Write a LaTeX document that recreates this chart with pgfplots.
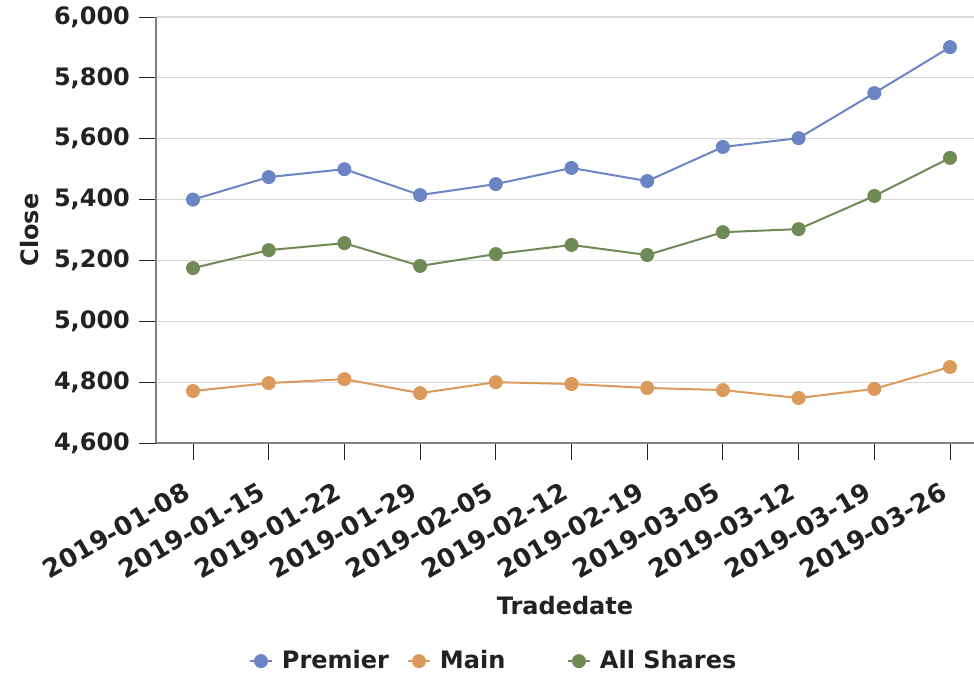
\documentclass[border=0pt]{standalone}
\usepackage{fontspec}
\setmainfont{DejaVu Sans}
\usepackage{pgfplots}
\pgfplotsset{compat=1.18}

\definecolor{premier}{HTML}{6B84C4}
\definecolor{mainc}{HTML}{DB9A5A}
\definecolor{allsh}{HTML}{6F8A55}
\definecolor{txt}{HTML}{222222}
\definecolor{axisgray}{HTML}{808080}
\definecolor{gridgray}{HTML}{D9D9D9}

\begin{document}
\begin{tikzpicture}
\begin{axis}[
    scale only axis,
    width=409pt, height=213pt,
    xmin=-0.489, xmax=10.317,
    ymin=4600, ymax=6000,
    ytick={4600,4800,...,6000},
    xtick={0,...,10},
    xticklabels={2019-01-08,2019-01-15,2019-01-22,2019-01-29,2019-02-05,2019-02-12,2019-02-19,2019-03-05,2019-03-12,2019-03-19,2019-03-26},
    axis x line*=bottom, axis y line*=left,
    axis line style={axisgray, line width=0.8pt},
    tick style={txt, line width=0.5pt},
    tick align=outside,
    major tick length=8.5pt,
    ymajorgrids,
    grid style={gridgray, line width=0.6pt},
    /pgf/number format/assume math mode=true,
    /pgf/number format/1000 sep={,},
    ticklabel style={font=\fontsize{12}{14}\selectfont\bfseries, text=txt},
    x tick label style={font=\fontsize{12.8}{15}\selectfont\bfseries, xshift=-5pt, yshift=-9pt, rotate=30, anchor=north east, inner sep=1pt},
    y tick label style={xshift=-1pt},
    xlabel={Tradedate},
    ylabel={Close},
    label style={font=\fontsize{12}{14}\selectfont\bfseries, text=txt},
    xlabel style={yshift=-3pt},
    ylabel style={yshift=0.5pt},
    legend columns=3,
    legend style={at={(axis description cs:0.414,-0.512)}, anchor=center,
        draw=none, font=\fontsize{12}{14}\selectfont\bfseries, text=txt,
        column sep=0pt},
    legend image code/.code={\draw[mark repeat=2, mark phase=2, #1] plot coordinates {(0pt,0pt) (5.5pt,0pt) (11pt,0pt)};},
    every axis plot/.append style={line width=1pt, mark=*, mark size=3pt},
]
\addplot[premier, mark options={fill=premier, draw=premier}] coordinates {
(0,5400) (1,5474) (2,5500) (3,5415) (4,5451) (5,5504) (6,5461) (7,5573) (8,5602) (9,5750) (10,5901)};
\addlegendentry{\makebox[63pt][l]{\hspace{2.5pt}Premier}}
\addplot[mainc, mark options={fill=mainc, draw=mainc}] coordinates {
(0,4771) (1,4797) (2,4810) (3,4764) (4,4800) (5,4794) (6,4781) (7,4774) (8,4748) (9,4778) (10,4850)};
\addlegendentry{\makebox[64pt][l]{\hspace{2.5pt}Main}}
\addplot[allsh, mark options={fill=allsh, draw=allsh}] coordinates {
(0,5175) (1,5234) (2,5257) (3,5182) (4,5221) (5,5251) (6,5218) (7,5293) (8,5303) (9,5412) (10,5537)};
\addlegendentry{\hspace{2.5pt}All Shares}
\coordinate (bl) at (axis description cs:-0.1907,-0.5587);
\coordinate (tr) at (axis description cs:1.0,1.04);
\end{axis}
\pgfresetboundingbox
\path (bl) rectangle (tr);
\end{tikzpicture}
\end{document}
